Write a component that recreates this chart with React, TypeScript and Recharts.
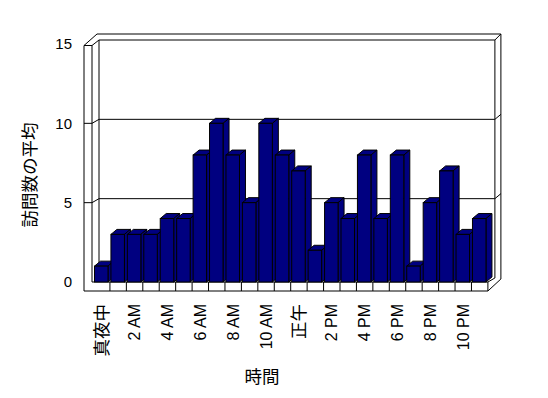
import React from 'react';
import { BarChart, Bar, XAxis, YAxis, CartesianGrid, Customized } from 'recharts';

// ---- data ----
const HOURS = [
  '真夜中', '1 AM', '2 AM', '3 AM', '4 AM', '5 AM', '6 AM', '7 AM', '8 AM', '9 AM', '10 AM', '11 AM',
  '正午', '1 PM', '2 PM', '3 PM', '4 PM', '5 PM', '6 PM', '7 PM', '8 PM', '9 PM', '10 PM', '11 PM',
];
const VISITS = [1, 3, 3, 3, 4, 4, 8, 10, 8, 5, 10, 8, 7, 2, 5, 4, 8, 4, 8, 1, 5, 7, 3, 4];
const Y_TICKS = [0, 5, 10, 15];
const Y_MAX = 15;
const X_TITLE = '時間';
const Y_TITLE = '訪問数の平均';

const data = HOURS.map((hour, i) => ({ hour, visits: VISITS[i] }));

// ---- layout ----
const W = 532;
const H = 382;
const PL = 85.5;
const PT = 36;
const PB = 274;
const PR = 479.9;
const BAND = (PR - PL) / HOURS.length;
const WDX = 7; // wall depth
const WDY = -4;
const XO = PL - 9.5; // outer left of left wall
const XI = PL - 1.5; // inner edge of left wall front face
const BX = PL + 5.5; // back wall left
const RF = PR + 7;
const RO = PR + 13;
const OT = PT - 10;
const WT = PT + 1.5;

const LATIN = "'Liberation Sans', Arial, sans-serif";
const CJK = "'Noto Sans CJK JP', 'Noto Sans CJK SC', sans-serif";
const isCJK = (s: string) => /[^\x00-\x7F]/.test(s);
const NAVY = '#000080';
const LINE = { stroke: '#000', strokeWidth: 1, fill: 'none' } as const;

function Bar3D(props: any) {
  const { x, y, width, height } = props;
  if (height == null || width == null) return null;
  const dx = 6;
  const dy = -5;
  const top = `${x},${y} ${x + width},${y} ${x + width + dx},${y + dy} ${x + dx},${y + dy}`;
  const side = `${x + width},${y} ${x + width + dx},${y + dy} ${x + width + dx},${y + height + dy} ${x + width},${y + height}`;
  return (
    <g>
      <polygon points={top} fill={NAVY} stroke="#000" strokeWidth={1} />
      <polygon points={side} fill={NAVY} stroke="#000" strokeWidth={1} />
      <rect x={x} y={y} width={width} height={height} fill={NAVY} stroke="#000" strokeWidth={1} />
    </g>
  );
}

function YTick(props: any) {
  const { y, payload } = props;
  const v = payload.value;
  const inner = v > 0 && v < Y_MAX;
  return (
    <g>
      <text x={PL - 21.5} y={y} dy="0.35em" textAnchor="end" fontFamily={LATIN} fontSize={15} fill="#000">
        {v}
      </text>
      {inner && <polyline points={`${XO},${y} ${XI},${y} ${BX},${y + WDY}`} {...LINE} />}
      {inner && <line x1={RF} y1={y + WDY} x2={RO} y2={y + WDY - 5} {...LINE} />}
    </g>
  );
}

function XTick(props: any) {
  const { x, y, payload, index } = props;
  const label = String(payload.value);
  const ty = y + 22;
  const cjk = isCJK(label);
  const half = BAND / 2;
  return (
    <g>
      {index !== 0 && <line x1={x - half} y1={PB} x2={x - half} y2={PB + 9} {...LINE} />}
      <line x1={x + half} y1={PB} x2={x + half} y2={PB + 9} {...LINE} />
      <text
        x={x}
        y={ty}
        dy="0.35em"
        transform={`rotate(-90 ${x} ${ty})`}
        textAnchor="end"
        fontFamily={cjk ? CJK : LATIN}
        fontSize={cjk ? 17.5 : 16}
        fill="#000"
      >
        {label}
      </text>
    </g>
  );
}

function Frame() {
  return (
    <g>
      {/* back wall */}
      <line x1={BX} y1={PT + WDY} x2={RF} y2={PT + WDY} {...LINE} />
      <line x1={XO + 13} y1={OT} x2={RO} y2={OT} {...LINE} />
      <line x1={RF} y1={PT + WDY} x2={RO} y2={OT} {...LINE} />
      <line x1={RF} y1={PT + WDY} x2={RF} y2={PB + WDY} {...LINE} />
      <line x1={RO} y1={OT} x2={RO} y2={PB - 3} {...LINE} />
      <line x1={BX} y1={PT + WDY} x2={BX} y2={PB + WDY} {...LINE} />
      {/* left wall */}
      <line x1={XO} y1={WT} x2={XO} y2={PB + 9} {...LINE} />
      <line x1={XI} y1={WT} x2={XI} y2={PB} {...LINE} />
      <line x1={XO} y1={WT} x2={XI} y2={WT} {...LINE} />
      <line x1={XO} y1={WT} x2={XO + 13} y2={OT} {...LINE} />
      <line x1={XI} y1={WT} x2={BX} y2={PT + WDY} {...LINE} />
      {/* floor */}
      <line x1={XI} y1={PB} x2={PR} y2={PB} {...LINE} />
      <line x1={XO} y1={PB + 9} x2={PR} y2={PB + 9} {...LINE} />
      <line x1={PR} y1={PB} x2={PR} y2={PB + 9} {...LINE} />
      <line x1={PR} y1={PB} x2={RF} y2={PB + WDY} {...LINE} />
      <line x1={PR} y1={PB + 9} x2={RO} y2={PB - 3} {...LINE} />
      {/* titles */}
      <text
        x={22}
        y={167}
        dy="0.35em"
        textAnchor="middle"
        transform="rotate(-90 22 167)"
        fontFamily={CJK}
        fontSize={17.5}
        fill="#000"
      >
        {Y_TITLE}
      </text>
      <text x={254} y={369} dy="0.35em" textAnchor="middle" fontFamily={CJK} fontSize={17.5} fill="#000">
        {X_TITLE}
      </text>
    </g>
  );
}

export default function App() {
  return (
    <div style={{ width: W, height: H, background: '#fff' }}>
      <BarChart
        width={W}
        height={H}
        data={data}
        margin={{ top: PT, right: W - PR, left: 0, bottom: 0 }}
        barSize={13.5}
      >
        <Customized component={<Frame />} />
        <CartesianGrid
          vertical={false}
          stroke="#000"
          strokeDasharray=""
          x={BX}
          width={RF - BX}
          horizontalCoordinatesGenerator={(args: any) => {
            const s = args && args.yAxis && args.yAxis.scale;
            return Y_TICKS.filter((t) => t > 0 && t < Y_MAX).map(
              (t) => (typeof s === 'function' ? s(t) : PB - (t / Y_MAX) * (PB - PT)) + WDY
            );
          }}
        />
        <XAxis
          dataKey="hour"
          interval={1}
          height={H - PB}
          tickLine={false}
          axisLine={false}
          tickSize={0}
          tickMargin={0}
          tick={<XTick />}
        />
        <YAxis
          domain={[0, Y_MAX]}
          ticks={Y_TICKS}
          width={PL}
          tickLine={false}
          axisLine={false}
          tickSize={0}
          tickMargin={0}
          tick={<YTick />}
        />
        <Bar dataKey="visits" shape={<Bar3D />} isAnimationActive={false} />
      </BarChart>
    </div>
  );
}
